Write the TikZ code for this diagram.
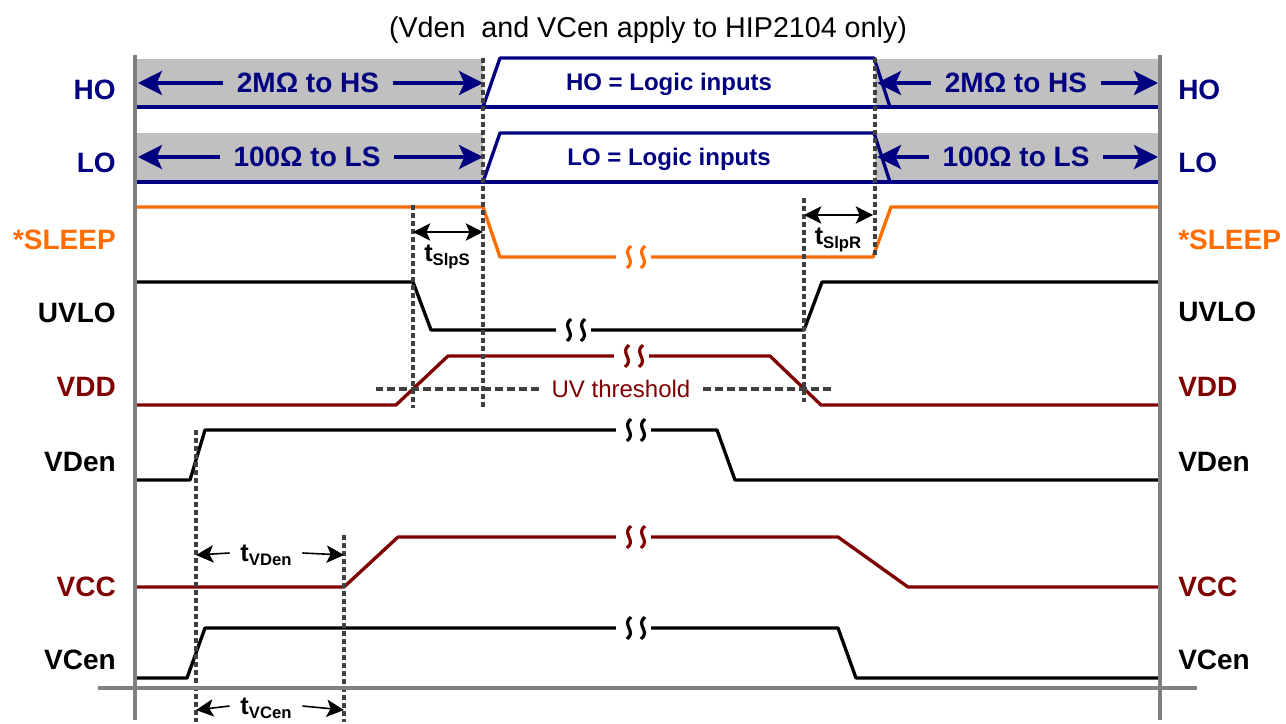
\documentclass[tikz,border=0pt]{standalone}
\usepackage{fontspec}
\setmainfont{Liberation Sans}
\usetikzlibrary{arrows.meta}
\definecolor{drvnavy}{RGB}{0,0,128}
\definecolor{slporange}{RGB}{255,108,0}
\definecolor{supred}{RGB}{128,0,0}
\definecolor{bandgray}{RGB}{192,192,192}
\definecolor{axisgray}{RGB}{128,128,128}
\definecolor{guidegray}{RGB}{64,64,64}
\newcommand{\brkmark}[3]{%
  \fill[white] (#1-19,#2-8) rectangle (#1+16,#2+8);
  \draw[#3, line width=2.4pt] (#1-4,#2-11) .. controls (#1-14,#2-3) and (#1+2,#2+3) .. (#1-8,#2+11);
  \draw[#3, line width=2.4pt] (#1+10,#2-11) .. controls (#1,#2-3) and (#1+16,#2+3) .. (#1+6,#2+11);}
\newcommand{\tsub}[1]{t\raisebox{-3.5pt}{\fontsize{12.5}{14}\selectfont #1}}

\begin{document}
\begin{tikzpicture}[x=0.75pt,y=-0.75pt,
  sig/.style={line width=2.5pt, line join=round},
  lbl/.style={font=\fontsize{21}{24}\selectfont\bfseries, inner sep=0pt, text depth=0pt},
  bandtxt/.style={font=\fontsize{21}{24}\selectfont\bfseries, text=drvnavy, inner xsep=10pt, inner ysep=0pt, text depth=0pt},
  logictxt/.style={font=\fontsize{18}{21}\selectfont\bfseries, text=drvnavy, inner sep=0pt, text depth=0pt},
  ttxt/.style={font=\fontsize{19}{22}\selectfont\bfseries, inner xsep=8pt, inner ysep=0pt, text depth=0pt},
  guide/.style={guidegray, line width=3pt, dash pattern=on 3.5pt off 2.5pt},
  thrline/.style={guidegray, line width=3pt, dash pattern=on 6pt off 3pt},
  bigarrow/.style={-{Stealth[length=18pt,width=18pt,inset=4pt]}, line width=2.5pt, drvnavy},
  tarrow/.style={-{Stealth[length=13pt,width=13pt,inset=3pt]}, line width=1.2pt}]
\useasboundingbox (0,0) rectangle (1286,724);

\node[font=\fontsize{21.5}{24}\selectfont, inner sep=0pt, text depth=0pt] (title) at (648,27) {(Vden\ \ and VCen apply to HIP2104 only)};

\fill[bandgray] (135,59) rectangle (483,107);
\fill[bandgray] (875,59) rectangle (1160,107);
\fill[bandgray] (135,133) rectangle (483,182);
\fill[bandgray] (875,133) rectangle (1160,182);

\draw[sig,drvnavy] (135,107) -- (1160,107);
\draw[sig,drvnavy] (483,107) -- (500,58) -- (874,58) -- (890,107);
\draw[sig,drvnavy] (135,182) -- (1160,182);
\draw[sig,drvnavy] (483,182) -- (500,133) -- (874,133) -- (890,182);
\draw[sig,slporange] (135,207) -- (483,207) -- (500,257) -- (873,257) -- (891,207) -- (1160,207);
\draw[sig,black] (135,282) -- (413,282) -- (431,330) -- (804,330) -- (822,282) -- (1160,282);
\draw[sig,supred] (135,405) -- (396,405) -- (448,356) -- (770,356) -- (821,405) -- (1160,405);
\draw[sig,black] (135,480) -- (190,480) -- (205,430) -- (717,430) -- (735,480) -- (1160,480);
\draw[sig,supred] (135,587) -- (344,587) -- (398,537) -- (838,537) -- (908,587) -- (1160,587);
\draw[sig,black] (135,678) -- (187,678) -- (205,628) -- (838,628) -- (856,678) -- (1160,678);

\brkmark{635}{257}{slporange}
\brkmark{575}{330}{black}
\brkmark{633}{356}{supred}
\brkmark{635}{430}{black}
\brkmark{635}{537}{supred}
\brkmark{635}{628}{black}

\node[bandtxt] (hsl) at (308,83) {2MΩ to HS};
\node[bandtxt] (hsr) at (1016,83) {2MΩ to HS};
\node[bandtxt] (lsl) at (307,157) {100Ω to LS};
\node[bandtxt] (lsr) at (1016,157) {100Ω to LS};
\coordinate (hsla) at (138,83);
\coordinate (hslb) at (483,83);
\coordinate (hsra) at (877,83);
\coordinate (hsrb) at (1158,83);
\coordinate (lsla) at (138,157);
\coordinate (lslb) at (483,157);
\coordinate (lsra) at (877,157);
\coordinate (lsrb) at (1158,157);
\draw[bigarrow] (hsl.west) -- (hsla);
\draw[bigarrow] (hsl.east) -- (hslb);
\draw[bigarrow] (hsr.west) -- (hsra);
\draw[bigarrow] (hsr.east) -- (hsrb);
\draw[bigarrow] (lsl.west) -- (lsla);
\draw[bigarrow] (lsl.east) -- (lslb);
\draw[bigarrow] (lsr.west) -- (lsra);
\draw[bigarrow] (lsr.east) -- (lsrb);

\node[logictxt] (hologic) at (669,82) {HO = Logic inputs};
\node[logictxt] (lologic) at (669,157) {LO = Logic inputs};

\draw[guide] (483,58) -- (483,408);
\draw[guide] (875,58) -- (875,256);
\draw[guide] (413,205) -- (413,408);
\draw[guide] (804,198) -- (804,402);
\draw[guide] (196,430) -- (196,722);
\draw[guide] (344,535) -- (344,722);

\node[font=\fontsize{18}{21}\selectfont, text=supred, inner xsep=9pt, inner ysep=0pt, text depth=0pt] (uvth) at (621,389) {UV threshold};
\coordinate (uva) at (376,389);
\coordinate (uvb) at (832,389);
\draw[thrline] (uvth.west) -- (uva);
\draw[thrline] (uvth.east) -- (uvb);

\coordinate (slps1) at (413,232);
\coordinate (slps2) at (483,232);
\draw[tarrow,{Stealth[length=13pt,width=13pt,inset=3pt]}-{Stealth[length=13pt,width=13pt,inset=3pt]}] (slps1) -- (slps2);
\node[ttxt] (tslps) at (447,253) {\tsub{SlpS}};
\coordinate (slpr1) at (804,215);
\coordinate (slpr2) at (873,215);
\draw[tarrow,{Stealth[length=13pt,width=13pt,inset=3pt]}-{Stealth[length=13pt,width=13pt,inset=3pt]}] (slpr1) -- (slpr2);
\node[ttxt] (tslpr) at (838,236) {\tsub{SlpR}};

\node[ttxt] (tvden) at (266,553) {\tsub{VDen}};
\coordinate (vdena) at (196,555);
\coordinate (vdenb) at (344,555);
\draw[tarrow] (tvden.west) -- (vdena);
\draw[tarrow] (tvden.east) -- (vdenb);
\node[ttxt] (tvcen) at (266,706) {\tsub{VCen}};
\coordinate (vcena) at (196,710);
\coordinate (vcenb) at (344,710);
\draw[tarrow] (tvcen.west) -- (vcena);
\draw[tarrow] (tvcen.east) -- (vcenb);

\draw[axisgray, line width=3.5pt] (135,55) -- (135,720);
\draw[axisgray, line width=3.5pt] (1160,55) -- (1160,720);
\draw[axisgray, line width=3.5pt] (98,688) -- (1197,688);

\node[lbl, anchor=east, text=drvnavy] (holeft) at (116,90) {HO};
\node[lbl, anchor=east, text=drvnavy] (loleft) at (116,163) {LO};
\node[lbl, anchor=east, text=slporange] (slpleft) at (116,240) {*SLEEP};
\node[lbl, anchor=east] (uvloleft) at (116,313) {UVLO};
\node[lbl, anchor=east, text=supred] (vddleft) at (116,387) {VDD};
\node[lbl, anchor=east] (vdenleft) at (116,462) {VDen};
\node[lbl, anchor=east, text=supred] (vccleft) at (116,587) {VCC};
\node[lbl, anchor=east] (vcenleft) at (116,660) {VCen};
\node[lbl, anchor=west, text=drvnavy] (horight) at (1178,90) {HO};
\node[lbl, anchor=west, text=drvnavy] (loright) at (1178,163) {LO};
\node[lbl, anchor=west, text=slporange] (slpright) at (1178,240) {*SLEEP};
\node[lbl, anchor=west] (uvloright) at (1178,312) {UVLO};
\node[lbl, anchor=west, text=supred] (vddright) at (1178,387) {VDD};
\node[lbl, anchor=west] (vdenright) at (1178,462) {VDen};
\node[lbl, anchor=west, text=supred] (vccright) at (1178,587) {VCC};
\node[lbl, anchor=west] (vcenright) at (1178,660) {VCen};
\end{tikzpicture}
\end{document}
